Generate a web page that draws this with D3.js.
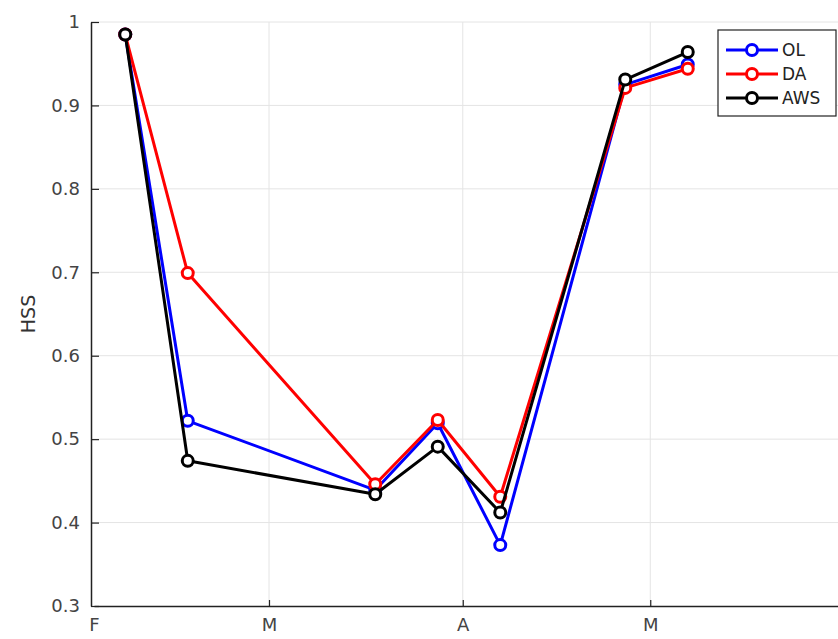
<!DOCTYPE html>
<html>
<head>
<meta charset="utf-8">
<script src="https://cdn.jsdelivr.net/npm/d3@7/dist/d3.min.js"></script>
<style>
  html, body { margin: 0; padding: 0; background: #fff; }
  svg { display: block; }
  text { font-family: "DejaVu Sans", sans-serif; }
</style>
</head>
<body>
<script>
// ---- data ----
const dates = ["2015-02-06", "2015-02-16", "2015-03-18", "2015-03-28", "2015-04-07", "2015-04-27", "2015-05-07"];
const seriesNames = ["OL", "DA", "AWS"];
const seriesColors = ["#0000ff", "#ff0000", "#000000"];
const olValues  = [0.985, 0.522, 0.439, 0.519, 0.373, 0.925, 0.949];
const daValues  = [0.985, 0.699, 0.446, 0.523, 0.431, 0.921, 0.944];
const awsValues = [0.985, 0.474, 0.434, 0.491, 0.412, 0.931, 0.964];
const yTicks = [0.3, 0.4, 0.5, 0.6, 0.7, 0.8, 0.9, 1];
const xTickDates = ["2015-02-01", "2015-03-01", "2015-04-01", "2015-05-01"];
const xTickLabels = ["F", "M", "A", "M"];
const yLabel = "HSS";

const W = 838, H = 639;
const parse = d3.timeParse("%Y-%m-%d");
const svg = d3.select("body").append("svg").attr("width", W).attr("height", H);

const x = d3.scaleTime()
  .domain([parse("2015-02-01"), parse("2015-06-01")])
  .range([94, 844]);
const y = d3.scaleLinear().domain([0.3, 1]).range([606, 22]);

// gridlines
const grid = svg.append("g");
grid.selectAll("line.h").data(yTicks.filter(t => t > 0.3)).enter().append("line")
  .attr("x1", 91).attr("x2", W).attr("y1", d => y(d)).attr("y2", d => y(d))
  .attr("stroke", "#e4e4e4").attr("stroke-width", 1);
grid.selectAll("line.v").data(xTickDates.slice(1)).enter().append("line")
  .attr("x1", d => x(parse(d))).attr("x2", d => x(parse(d)))
  .attr("y1", 22).attr("y2", 606)
  .attr("stroke", "#e4e4e4").attr("stroke-width", 1);

// y axis
const yAxis = d3.axisLeft(y).tickValues(yTicks).tickSizeInner(-8).tickSizeOuter(0).tickPadding(11)
  .tickFormat(d => d === 1 ? "1" : d3.format(".1f")(d));
const gy = svg.append("g").attr("transform", "translate(91,0)").call(yAxis);
gy.select(".domain").attr("stroke", "#222").attr("stroke-width", 1.5);
gy.selectAll(".tick line").attr("stroke", "#222").attr("stroke-width", 1.2);
gy.selectAll(".tick text").attr("font-size", 18).attr("fill", "#444").attr("font-family", "DejaVu Sans, sans-serif");

// x axis
const xAxis = d3.axisBottom(x).tickValues(xTickDates.map(parse)).tickSizeInner(-6).tickSizeOuter(0).tickPadding(12)
  .tickFormat((d, i) => xTickLabels[i]);
const gx = svg.append("g").attr("transform", "translate(0,606)").call(xAxis);
gx.select(".domain").attr("stroke", "#222").attr("stroke-width", 1.5);
gx.selectAll(".tick line").attr("stroke", "#222").attr("stroke-width", 1.2);
gx.selectAll(".tick text").attr("font-size", 18).attr("fill", "#444").attr("font-family", "DejaVu Sans, sans-serif");
// first tick sits on the y axis: hide its inward mark
gx.selectAll(".tick line").filter((d, i) => i === 0).attr("opacity", 0);

// y label
svg.append("text")
  .attr("transform", `translate(35,${y(0.65)}) rotate(-90)`)
  .attr("text-anchor", "middle")
  .attr("font-size", 19).attr("fill", "#333")
  .text(yLabel);

// series
const allValues = [olValues, daValues, awsValues];
const line = d3.line().x((d, i) => x(parse(dates[i]))).y(d => y(d));
allValues.forEach((vals, si) => {
  const g = svg.append("g");
  g.append("path").datum(vals).attr("d", line)
    .attr("fill", "none").attr("stroke", seriesColors[si]).attr("stroke-width", 3)
    .attr("stroke-linejoin", "round");
  g.selectAll("circle").data(vals).enter().append("circle")
    .attr("cx", (d, i) => x(parse(dates[i]))).attr("cy", d => y(d))
    .attr("r", 5.5).attr("fill", "#fff")
    .attr("stroke", seriesColors[si]).attr("stroke-width", 3);
});

// legend
const lg = svg.append("g");
lg.append("rect").attr("x", 718).attr("y", 30).attr("width", 118).attr("height", 86)
  .attr("fill", "#fff").attr("stroke", "#222").attr("stroke-width", 1.2);
seriesNames.forEach((name, i) => {
  const cy = 50 + i * 24;
  lg.append("line").attr("x1", 726).attr("x2", 778).attr("y1", cy).attr("y2", cy)
    .attr("stroke", seriesColors[i]).attr("stroke-width", 3);
  lg.append("circle").attr("cx", 752).attr("cy", cy).attr("r", 5.5)
    .attr("fill", "#fff").attr("stroke", seriesColors[i]).attr("stroke-width", 3);
  lg.append("text").attr("x", 782).attr("y", cy).attr("dy", "0.36em")
    .attr("font-size", 17).attr("fill", "#222").text(name);
});
</script>
</body>
</html>
